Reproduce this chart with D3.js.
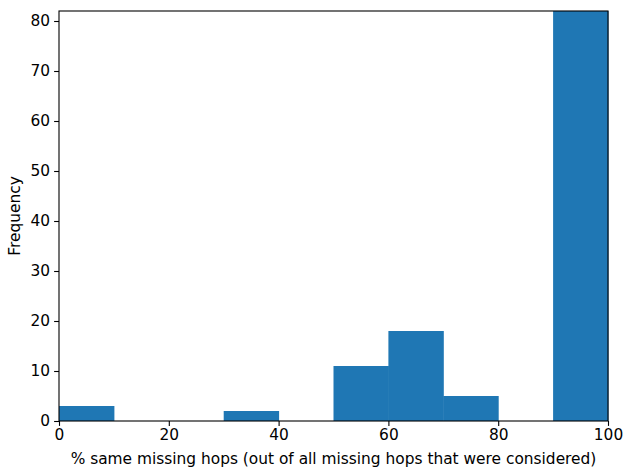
<!DOCTYPE html>
<html>
<head>
<meta charset="utf-8">
<script src="https://cdn.jsdelivr.net/npm/d3@7"></script>
<style>
  body { margin: 0; background: #fff; }
  text { font-family: "DejaVu Sans", sans-serif; }
</style>
</head>
<body>
<svg id="chart"></svg>
<script>
// histogram bins (left edges) and counts
const binStarts = [0, 10, 20, 30, 40, 50, 60, 70, 80, 90];
const binWidth = 10;
const counts = [3, 0, 0, 2, 0, 11, 18, 5, 0, 82];
const xTicks = [0, 20, 40, 60, 80, 100];
const yTicks = [0, 10, 20, 30, 40, 50, 60, 70, 80];

const width = 624, height = 469;
const margin = { top: 11, right: 16, bottom: 48, left: 59 };
const w = width - margin.left - margin.right;
const h = height - margin.top - margin.bottom;

const svg = d3.select("#chart").attr("width", width).attr("height", height);
const g = svg.append("g").attr("transform", `translate(${margin.left},${margin.top})`);

const x = d3.scaleLinear().domain([0, 100]).range([0, w]);
const y = d3.scaleLinear().domain([0, 82]).range([h, 0]);

g.selectAll("rect.bar")
    .data(binStarts.map((s, i) => ({ s, c: counts[i] })))
    .join("rect")
    .attr("class", "bar")
    .attr("x", d => x(d.s))
    .attr("width", d => x(d.s + binWidth) - x(d.s) + 0.5)
    .attr("y", d => y(d.c))
    .attr("height", d => y(0) - y(d.c))
    .attr("fill", "#1f77b4");

const fs = "15.4px";

const xAxis = g.append("g")
    .attr("transform", `translate(0,${h})`)
    .call(d3.axisBottom(x).tickValues(xTicks).tickSize(4.9).tickPadding(3).tickFormat(d3.format("d")));
const yAxis = g.append("g")
    .call(d3.axisLeft(y).tickValues(yTicks).tickSize(4.9).tickPadding(4).tickFormat(d3.format("d")));

[xAxis, yAxis].forEach(a => {
    a.select(".domain").remove();
    a.attr("font-size", fs).attr("font-family", "DejaVu Sans, sans-serif");
    a.selectAll("line").attr("stroke", "#000").attr("stroke-width", 1.1);
    a.selectAll("text").attr("fill", "#000");
});

// frame
g.append("rect")
    .attr("width", w).attr("height", h)
    .attr("fill", "none").attr("stroke", "#000").attr("stroke-width", 1.1);

svg.append("text")
    .attr("x", margin.left + w / 2).attr("y", 464)
    .attr("text-anchor", "middle").attr("font-size", fs)
    .text("% same missing hops (out of all missing hops that were considered)");

svg.append("text")
    .attr("transform", `translate(20,${margin.top + h / 2}) rotate(-90)`)
    .attr("text-anchor", "middle").attr("font-size", fs)
    .text("Frequency");
</script>
</body>
</html>
